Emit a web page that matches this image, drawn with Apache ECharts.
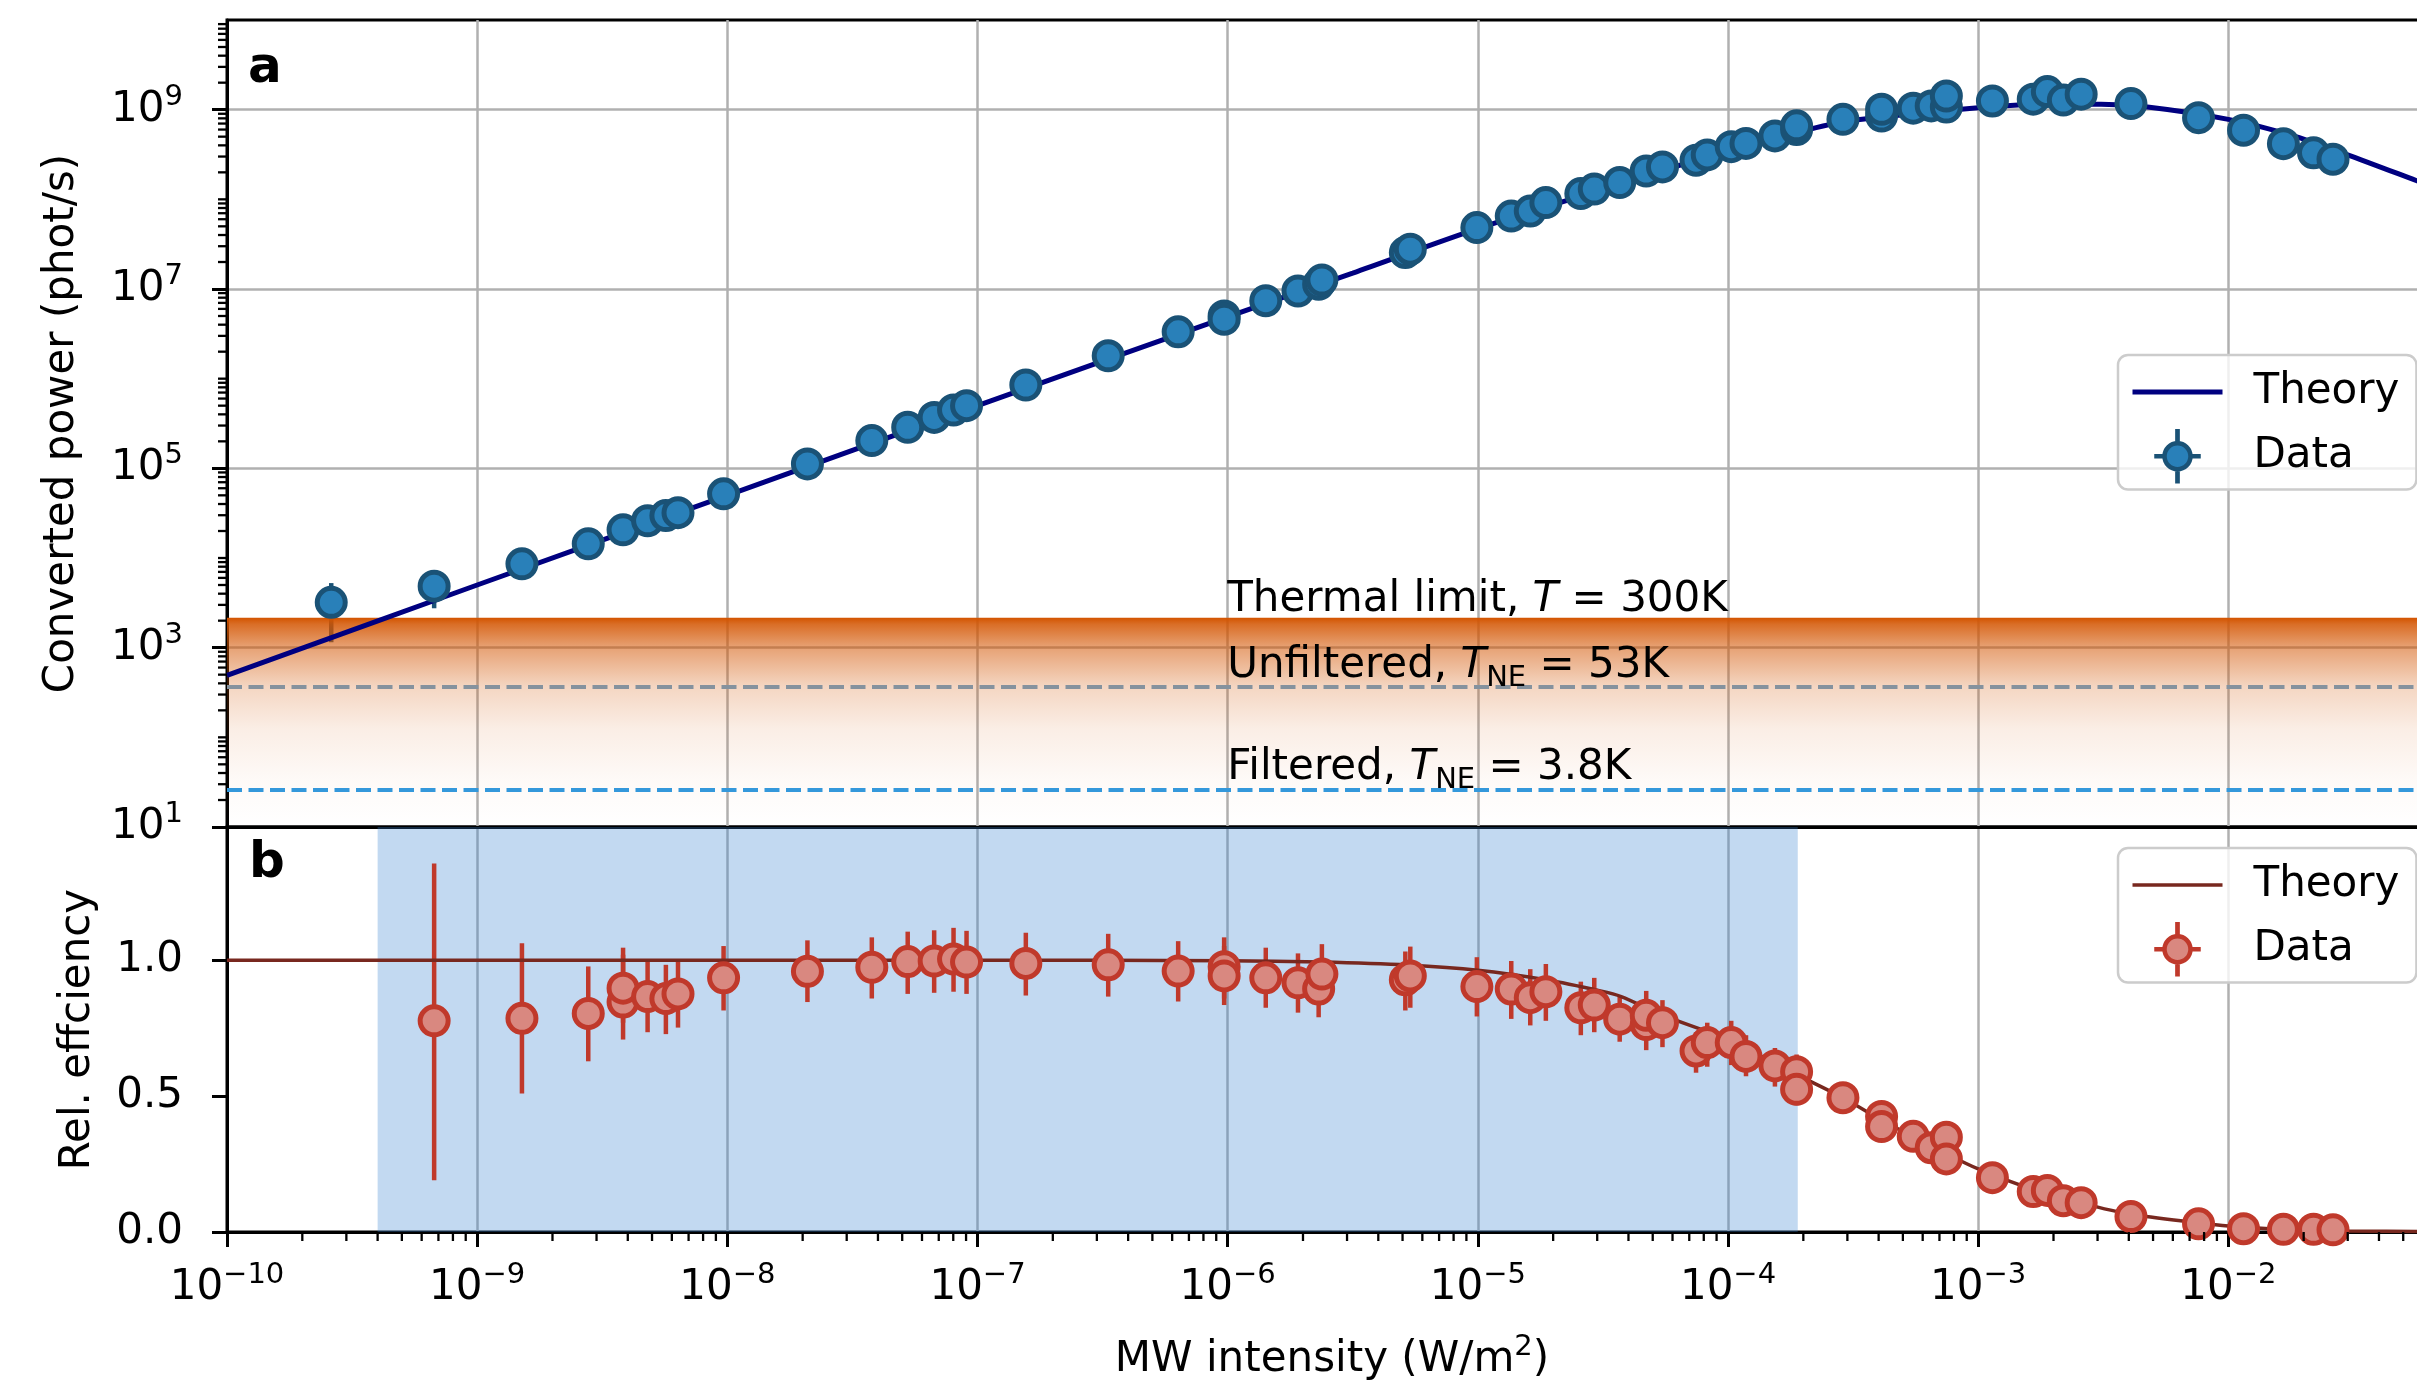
<!DOCTYPE html>
<html>
<head>
<meta charset="utf-8">
<script src="https://cdn.jsdelivr.net/npm/echarts@6/dist/echarts.min.js"></script>
<style>
  html, body { margin: 0; padding: 0; background: #fff; }
  #chart { width: 2417px; height: 1385px; }
</style>
</head>
<body>
<div id="chart"></div>
<script>
// ---- panel a: converted power (phot/s) vs MW intensity (W/m^2)
const powerX = [2.61e-10, 6.73e-10, 1.51e-9, 2.78e-9, 3.83e-9, 4.80e-9, 5.68e-9, 6.35e-9, 9.66e-9, 2.09e-8,
  3.78e-8, 5.26e-8, 6.71e-8, 8.02e-8, 9.04e-8, 1.56e-7, 3.33e-7, 6.34e-7, 9.68e-7, 9.68e-7,
  1.42e-6, 1.91e-6, 2.31e-6, 2.38e-6, 5.13e-6, 5.37e-6, 9.91e-6, 1.36e-5, 1.62e-5, 1.87e-5,
  2.58e-5, 2.92e-5, 3.69e-5, 4.71e-5, 5.47e-5, 7.45e-5, 8.26e-5, 1.03e-4, 1.18e-4, 1.54e-4,
  1.88e-4, 1.88e-4, 2.88e-4, 4.11e-4, 4.11e-4, 5.50e-4, 6.49e-4, 7.46e-4, 7.46e-4, 1.14e-3,
  1.66e-3, 1.89e-3, 2.19e-3, 2.58e-3, 4.08e-3, 7.60e-3, 1.15e-2, 1.66e-2, 2.19e-2, 2.62e-2];
const powerY = [3.2e3, 4.85e3, 8.6e3, 1.44e4, 2.06e4, 2.6e4, 2.97e4, 3.2e4, 5.2e4, 1.12e5,
  2.04e5, 2.87e5, 3.7e5, 4.47e5, 5.0e5, 8.5e5, 1.8e6, 3.33e6, 5.0e6, 4.6e6,
  7.4e6, 9.5e6, 1.13e7, 1.26e7, 2.55e7, 2.78e7, 4.84e7, 6.5e7, 7.4e7, 9.2e7,
  1.16e8, 1.3e8, 1.54e8, 2.07e8, 2.3e8, 2.73e8, 3.13e8, 3.87e8, 4.2e8, 5.1e8,
  6.0e8, 6.6e8, 7.8e8, 8.5e8, 1.01e9, 1.04e9, 1.1e9, 1.07e9, 1.42e9, 1.25e9,
  1.31e9, 1.59e9, 1.28e9, 1.49e9, 1.17e9, 8.15e8, 5.9e8, 4.18e8, 3.3e8, 2.8e8];
// only these two error bars stick out of the markers
const powerErrX = [2.61e-10, 6.73e-10];
const powerErrLo = [1.15e3, 2.75e3];
const powerErrHi = [5.25e3, 6.95e3];

const powerTheoryX = [1e-10, 1e-9, 1e-8, 1e-7, 1e-6, 3.16e-6, 1e-5, 3.16e-5, 1e-4, 2.1e-4,
  3.16e-4, 1e-3, 1.78e-3, 3.1e-3, 4.75e-3, 1e-2, 1.78e-2, 2.94e-2, 5.7e-2, 6.83e-2];
const powerTheoryY = [4.9e2, 5.0e3, 5.0e4, 5.0e5, 4.9e6, 1.5e7, 4.7e7, 1.29e8, 3.5e8, 6.0e8,
  7.6e8, 1.05e9, 1.15e9, 1.15e9, 1.07e9, 7.8e8, 5.2e8, 3.2e8, 1.6e8, 1.32e8];

const THERMAL_LIMIT = 2150;     // T = 300K
const UNFILTERED_LEVEL = 360;   // T_NE = 53K
const FILTERED_LEVEL = 26.1;    // T_NE = 3.8K
const ANNOT_X = 1e-6;

// ---- panel b: relative efficiency
const effX = [6.73e-10, 1.51e-9, 2.78e-9, 3.83e-9, 3.83e-9, 4.80e-9, 5.68e-9, 6.35e-9, 9.66e-9, 2.09e-8,
  3.78e-8, 5.26e-8, 6.71e-8, 8.02e-8, 9.04e-8, 1.56e-7, 3.33e-7, 6.34e-7, 9.68e-7, 9.68e-7,
  1.42e-6, 1.91e-6, 2.31e-6, 2.38e-6, 5.13e-6, 5.37e-6, 9.91e-6, 1.36e-5, 1.62e-5, 1.87e-5,
  2.58e-5, 2.92e-5, 3.69e-5, 4.71e-5, 4.71e-5, 5.47e-5, 7.45e-5, 8.26e-5, 1.03e-4, 1.18e-4,
  1.54e-4, 1.88e-4, 1.88e-4, 2.88e-4, 4.11e-4, 4.11e-4, 5.50e-4, 6.49e-4, 7.46e-4, 7.46e-4,
  1.14e-3, 1.66e-3, 1.89e-3, 2.19e-3, 2.58e-3, 4.08e-3, 7.60e-3, 1.15e-2, 1.66e-2, 2.19e-2, 2.62e-2];
const effY = [0.777, 0.786, 0.804, 0.846, 0.897, 0.866, 0.859, 0.876, 0.935, 0.959,
  0.974, 0.995, 0.997, 1.004, 0.993, 0.988, 0.983, 0.960, 0.976, 0.942,
  0.935, 0.917, 0.894, 0.949, 0.928, 0.942, 0.903, 0.894, 0.862, 0.884,
  0.825, 0.835, 0.783, 0.763, 0.797, 0.770, 0.666, 0.697, 0.697, 0.646,
  0.611, 0.590, 0.525, 0.494, 0.425, 0.388, 0.352, 0.310, 0.349, 0.269,
  0.200, 0.149, 0.153, 0.115, 0.108, 0.057, 0.030, 0.012, 0.010, 0.010, 0.008];
const effLo = [0.190, 0.510, 0.628, 0.708, 0.770, 0.735, 0.728, 0.752, 0.815, 0.846,
  0.859, 0.876, 0.880, 0.884, 0.876, 0.870, 0.866, 0.848, 0.859, 0.835,
  0.825, 0.807, 0.790, 0.835, 0.815, 0.825, 0.793, 0.784, 0.760, 0.777,
  0.724, 0.735, 0.700, 0.669, 0.708, 0.680, 0.586, 0.608, 0.614, 0.573,
  0.535, 0.535, 0.466];
const effHi = [1.356, 1.062, 0.977, 1.046, 1.020, 0.995, 0.983, 0.995, 1.052, 1.073,
  1.084, 1.105, 1.110, 1.119, 1.108, 1.101, 1.097, 1.070, 1.084, 1.052,
  1.046, 1.025, 1.004, 1.059, 1.032, 1.050, 1.011, 0.997, 0.967, 0.986,
  0.921, 0.935, 0.865, 0.832, 0.887, 0.853, 0.735, 0.770, 0.777, 0.724,
  0.677, 0.653, 0.583];

const effTheoryX = [1e-10, 1e-7, 1e-6, 2.36e-6, 5.25e-6, 1e-5, 1.87e-5, 3.09e-5, 3.74e-5, 5.5e-5,
  1e-4, 1.9e-4, 2.88e-4, 4.12e-4, 7.5e-4, 1e-3, 1.66e-3, 2.55e-3, 4.02e-3, 7.67e-3,
  1e-2, 1.62e-2, 3e-2, 6.83e-2];
const effTheoryY = [1.0, 1.0, 0.998, 0.993, 0.982, 0.963, 0.928, 0.887, 0.866, 0.797,
  0.707, 0.577, 0.494, 0.411, 0.287, 0.232, 0.156, 0.108, 0.066, 0.033,
  0.022, 0.010, 0.004, 0.001];

const SPAN_LO = 4.0e-10;
const SPAN_HI = 1.9e-4;

// ---- axes
const X_MIN_EXP = -10;
const X_MAX_EXP = -1.166;
const xMajorExp = [-10, -9, -8, -7, -6, -5, -4, -3, -2];
const powerMajorExp = [1, 3, 5, 7, 9];
const effTicks = [0, 0.5, 1.0];
const MINOR_MULT = [2, 3, 4, 5, 6, 7, 8, 9];

const LOG = Math.log10;
const FONT = "'DejaVu Sans', sans-serif";
const GRID_GREY = '#b0b0b0';

const xMinorTicks = [];
for (let n = -10; n <= -2; n++) {
  MINOR_MULT.forEach(k => { const v = n + LOG(k); if (v < X_MAX_EXP) xMinorTicks.push([v, 0]); });
}
const yMinorTicks = [];
for (let n = 1; n <= 9; n++) {
  if (n % 2 === 0) yMinorTicks.push([X_MIN_EXP, n]);
  MINOR_MULT.forEach(k => yMinorTicks.push([X_MIN_EXP, n + LOG(k)]));
}

const powRich = {
  b: { fontFamily: FONT, fontSize: 42, lineHeight: 54, color: '#000' },
  s: { fontFamily: FONT, fontSize: 29, lineHeight: 29, verticalAlign: 'top', color: '#000' }
};
function powLabel(v) {
  const e = Math.round(v);
  return '{b|10}{s|' + (e < 0 ? '\u2212' + (-e) : e) + '}';
}

const annotRich = {
  r: { fontFamily: FONT, fontSize: 42, lineHeight: 54, color: '#000' },
  i: { fontFamily: FONT, fontSize: 42, lineHeight: 54, fontStyle: 'italic', color: '#000' },
  sub: { fontFamily: FONT, fontSize: 29, lineHeight: 29, verticalAlign: 'bottom', color: '#000' }
};

const DATA_ICON = 'path://M-13,0A13,13,0,1,0,13,0A13,13,0,1,0,-13,0Z' +
  'M-0.1,-25L0.1,-25L0.1,-13L-0.1,-13Z M-0.1,13L0.1,13L0.1,25L-0.1,25Z' +
  'M-21,-0.1L-13,-0.1L-13,0.1L-21,0.1Z M13,-0.1L21,-0.1L21,0.1L13,0.1Z';

function errorBarSeries(xs, lo, hi, color, xi) {
  const data = [];
  xs.forEach((x, i) => {
    if (lo[i] == null || hi[i] == null) return;
    data.push(xi === 0 ? [LOG(x), LOG(lo[i]), LOG(hi[i])] : [LOG(x), lo[i], hi[i]]);
  });
  return {
    type: 'custom', xAxisIndex: xi, yAxisIndex: xi, z: 2, silent: true,
    encode: { x: 0, y: [1, 2] },
    data,
    renderItem(params, api) {
      const p1 = api.coord([api.value(0), api.value(1)]);
      const p2 = api.coord([api.value(0), api.value(2)]);
      return { type: 'line', shape: { x1: p1[0], y1: p1[1], x2: p2[0], y2: p2[1] },
        style: { stroke: color, lineWidth: 4.5 } };
    }
  };
}

function legendOpt(top, names, lineColor, lineW, fill, edge) {
  return {
    orient: 'vertical', left: 2118, top,
    selectedMode: false,
    itemWidth: 90, itemHeight: 50, itemGap: 16,
    padding: [16, 17, 6, 14.5],
    backgroundColor: 'rgba(255,255,255,0.8)',
    borderColor: '#cccccc', borderWidth: 2.5, borderRadius: 10,
    formatter: n => n.trim(),
    textStyle: { fontFamily: FONT, fontSize: 42, color: '#000', padding: [0, 0, 0, 26] },
    data: [
      { name: names[0], icon: 'path://M0,0H90V' + lineW + 'H0Z',
        itemStyle: { color: lineColor, borderWidth: 0 } },
      { name: names[1], icon: DATA_ICON,
        itemStyle: { color: fill, borderColor: edge, borderWidth: 4.5 } }
    ]
  };
}

const chart = echarts.init(document.getElementById('chart'));

chart.setOption({
  animation: false,
  backgroundColor: '#fff',
  grid: [
    { left: 227, top: 20, width: 2210, height: 807, show: true, borderColor: '#000', borderWidth: 3,
      backgroundColor: 'transparent', outerBoundsMode: 'none' },
    { left: 227, top: 827, width: 2210, height: 405, show: true, borderColor: '#000', borderWidth: 3,
      backgroundColor: 'transparent', outerBoundsMode: 'none' }
  ],
  legend: [
    legendOpt(355, ['Theory', 'Data'], '#000080', 5, '#2980b9', '#1a5276'),
    legendOpt(848, ['Theory ', 'Data '], '#78281f', 3.5, '#d98880', '#c0392b')
  ],
  graphic: [
    { type: 'text', z: 10, style: { x: 248, y: 69, text: 'a', fill: '#000', verticalAlign: 'middle',
      font: 'bold 50px ' + FONT } },
    { type: 'text', z: 10, style: { x: 249, y: 864, text: 'b', fill: '#000', verticalAlign: 'middle',
      font: 'bold 50px ' + FONT } }
  ],
  xAxis: [
    {
      gridIndex: 0, type: 'value', min: X_MIN_EXP, max: X_MAX_EXP, z: 0.5,
      axisLine: { show: true, onZero: false, lineStyle: { color: '#000', width: 3 } },
      axisTick: { show: false, customValues: xMajorExp.slice(1) },
      axisLabel: { show: false },
      splitLine: { show: true, lineStyle: { color: GRID_GREY, width: 2.5 } }
    },
    {
      gridIndex: 1, type: 'value', min: X_MIN_EXP, max: X_MAX_EXP, z: 0,
      axisLine: { show: true, onZero: false, lineStyle: { color: '#000', width: 3 } },
      axisTick: { show: true, length: 15, customValues: xMajorExp, lineStyle: { color: '#000', width: 3 } },
      axisLabel: { customValues: xMajorExp, formatter: powLabel, margin: 29, rich: powRich },
      splitLine: { show: true, lineStyle: { color: GRID_GREY, width: 2.5 } },
      name: '{t|MW intensity (W/m}{s|2}{t|)}',
      nameLocation: 'middle', nameGap: 101, nameMoveOverlap: false,
      nameTextStyle: { rich: {
        t: { fontFamily: FONT, fontSize: 42, lineHeight: 54, color: '#000' },
        s: { fontFamily: FONT, fontSize: 29, lineHeight: 29, verticalAlign: 'top', color: '#000' }
      } }
    }
  ],
  yAxis: [
    {
      gridIndex: 0, type: 'value', min: 1, max: 10, z: 0,
      axisLine: { show: true, onZero: false, lineStyle: { color: '#000', width: 3 } },
      axisTick: { show: true, length: 15, customValues: powerMajorExp, lineStyle: { color: '#000', width: 3 } },
      axisLabel: { customValues: powerMajorExp, formatter: powLabel, margin: 44, rich: powRich },
      splitLine: { show: true, lineStyle: { color: GRID_GREY, width: 2.5 } },
      name: 'Converted power (phot/s)', nameLocation: 'middle', nameGap: 140, nameMoveOverlap: false,
      nameTextStyle: { fontFamily: FONT, fontSize: 42, lineHeight: 50, color: '#000' }
    },
    {
      gridIndex: 1, type: 'value', min: 0, max: 1.49, z: 0.5,
      axisLine: { show: true, onZero: false, lineStyle: { color: '#000', width: 3 } },
      axisTick: { show: true, length: 15, customValues: effTicks, lineStyle: { color: '#000', width: 3 } },
      axisLabel: { customValues: effTicks, formatter: v => v.toFixed(1), margin: 44,
        fontFamily: FONT, fontSize: 42, color: '#000' },
      splitLine: { show: false },
      name: 'Rel. effciency', nameLocation: 'middle', nameGap: 124, nameMoveOverlap: false,
      nameTextStyle: { fontFamily: FONT, fontSize: 42, lineHeight: 50, color: '#000' }
    }
  ],
  series: [
    // panel a
    {
      name: 'Theory', type: 'line', xAxisIndex: 0, yAxisIndex: 0, z: 3,
      data: powerTheoryX.map((x, i) => [LOG(x), LOG(powerTheoryY[i])]),
      symbol: 'none', showSymbol: false, smooth: 0.3,
      lineStyle: { color: '#000080', width: 5 }, itemStyle: { color: '#000080' },
      markArea: {
        silent: true, z: 2.5,
        itemStyle: {
          color: new echarts.graphic.LinearGradient(0, 0, 0, 1, [
            { offset: 0, color: 'rgba(211,84,0,1)' },
            { offset: 0.03, color: 'rgba(211,84,0,0.85)' },
            { offset: 0.14, color: 'rgba(211,84,0,0.55)' },
            { offset: 0.33, color: 'rgba(211,84,0,0.24)' },
            { offset: 0.53, color: 'rgba(211,84,0,0.10)' },
            { offset: 0.77, color: 'rgba(211,84,0,0.03)' },
            { offset: 1, color: 'rgba(211,84,0,0)' }
          ])
        },
        data: [[{ yAxis: 1 }, { yAxis: LOG(THERMAL_LIMIT) }]]
      },
      markLine: {
        silent: true, symbol: ['none', 'none'], label: { show: false },
        data: [
          { yAxis: LOG(UNFILTERED_LEVEL), lineStyle: { color: '#85929e', width: 4.2, type: [15, 6.5] } },
          { yAxis: LOG(FILTERED_LEVEL), lineStyle: { color: '#3498db', width: 4.2, type: [15, 6.5] } }
        ]
      },
      markPoint: {
        silent: true, symbol: 'circle', symbolSize: 1, itemStyle: { color: 'rgba(0,0,0,0)' },
        label: { show: true, position: [0, 0], align: 'left', verticalAlign: 'bottom', rich: annotRich },
        data: [
          { coord: [LOG(ANNOT_X), LOG(THERMAL_LIMIT)], label: { offset: [0, 10],
            formatter: '{r|Thermal limit, }{i|T}{r| = 300K}' } },
          { coord: [LOG(ANNOT_X), LOG(UNFILTERED_LEVEL)], label: { offset: [0, 6],
            formatter: '{r|Unfiltered, }{i|T}{sub|NE}{r| = 53K}' } },
          { coord: [LOG(ANNOT_X), LOG(FILTERED_LEVEL)], label: { offset: [0, 6],
            formatter: '{r|Filtered, }{i|T}{sub|NE}{r| = 3.8K}' } }
        ]
      }
    },
    errorBarSeries(powerErrX, powerErrLo, powerErrHi, '#1a5276', 0),
    {
      name: 'Data', type: 'scatter', xAxisIndex: 0, yAxisIndex: 0, z: 4,
      data: powerX.map((x, i) => [LOG(x), LOG(powerY[i])]),
      symbol: 'circle', symbolSize: 28,
      itemStyle: { color: '#2980b9', borderColor: '#1a5276', borderWidth: 5, opacity: 1 }
    },
    // panel b
    {
      name: 'Theory ', type: 'line', xAxisIndex: 1, yAxisIndex: 1, z: 3,
      data: effTheoryX.map((x, i) => [LOG(x), effTheoryY[i]]),
      symbol: 'none', showSymbol: false, smooth: 0.3,
      lineStyle: { color: '#78281f', width: 3.5 }, itemStyle: { color: '#78281f' },
      markArea: {
        silent: true,
        itemStyle: { color: 'rgba(52,130,210,0.3)' },
        data: [[{ xAxis: LOG(SPAN_LO) }, { xAxis: LOG(SPAN_HI) }]]
      }
    },
    errorBarSeries(effX, effLo, effHi, '#c0392b', 1),
    {
      name: 'Data ', type: 'scatter', xAxisIndex: 1, yAxisIndex: 1, z: 4,
      data: effX.map((x, i) => [LOG(x), effY[i]]),
      symbol: 'circle', symbolSize: 28,
      itemStyle: { color: '#d98880', borderColor: '#c0392b', borderWidth: 5, opacity: 1 }
    },
    // log minor ticks
    {
      type: 'custom', xAxisIndex: 1, yAxisIndex: 1, z: 5, silent: true, data: xMinorTicks,
      renderItem(params, api) {
        const c = api.coord([api.value(0), api.value(1)]);
        return { type: 'line', shape: { x1: c[0], y1: c[1], x2: c[0], y2: c[1] + 9 },
          style: { stroke: '#000', lineWidth: 2.3 } };
      }
    },
    {
      type: 'custom', xAxisIndex: 0, yAxisIndex: 0, z: 5, silent: true, data: yMinorTicks,
      renderItem(params, api) {
        const c = api.coord([api.value(0), api.value(1)]);
        return { type: 'line', shape: { x1: c[0] - 9, y1: c[1], x2: c[0], y2: c[1] },
          style: { stroke: '#000', lineWidth: 2.3 } };
      }
    }
  ]
});
</script>
</body>
</html>
